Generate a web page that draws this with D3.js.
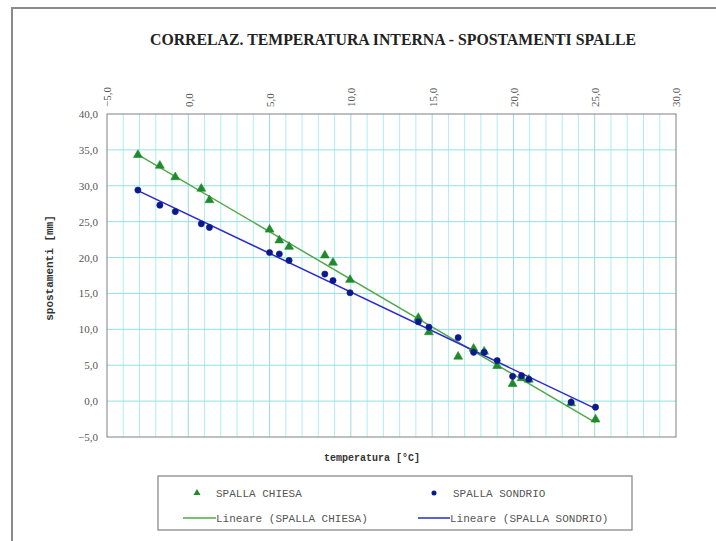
<!DOCTYPE html>
<html>
<head>
<meta charset="utf-8">
<script src="https://cdn.jsdelivr.net/npm/d3@7"></script>
<style>
  html, body { margin: 0; padding: 0; background: #fff; }
  svg { display: block; }
</style>
</head>
<body>
<svg id="chart" width="716" height="541"></svg>
<script>
// Internal temperature (°C) for each survey, shared by both abutments
const temperature = [-3.1, -1.75, -0.8, 0.8, 1.3, 5.0, 5.6, 6.2, 8.4, 8.9, 9.95,
                     14.15, 14.8, 16.6, 17.55, 18.2, 19.0, 19.95, 20.5, 20.95, 23.55, 25.05];
// Displacements (mm) – SPALLA CHIESA
const spallaChiesa = [34.3, 32.8, 31.2, 29.6, 28.0, 23.9, 22.4, 21.5, 20.3, 19.3, 16.9,
                      11.6, 9.6, 6.2, 7.3, 6.9, 4.9, 2.4, 3.2, 3.0, -0.3, -2.55];
// Displacements (mm) – SPALLA SONDRIO
const spallaSondrio = [29.4, 27.3, 26.4, 24.7, 24.2, 20.7, 20.5, 19.6, 17.7, 16.8, 15.1,
                       11.05, 10.3, 8.85, 6.8, 6.8, 5.65, 3.45, 3.55, 3.05, -0.15, -0.85];
const xTicks = [-5, 0, 5, 10, 15, 20, 25, 30];
const yTicks = [-5, 0, 5, 10, 15, 20, 25, 30, 35, 40];
const seriesNames = ["SPALLA CHIESA", "SPALLA SONDRIO"];
const trendNames = ["Lineare (SPALLA CHIESA)", "Lineare (SPALLA SONDRIO)"];

const svg = d3.select("#chart");
const W = 716, H = 541;
const plot = { left: 107, right: 676, top: 114, bottom: 437 };

const x = d3.scaleLinear().domain([-5, 30]).range([plot.left, plot.right]);
const y = d3.scaleLinear().domain([-5, 40]).range([plot.bottom, plot.top]);
const fmt = d => d3.format(".1f")(d).replace(".", ",");

// outer chart frame
svg.append("path")
  .attr("d", `M12,${H + 5} L12,8 L${W + 5},8`)
  .attr("fill", "none").attr("stroke", "#8a8a8a").attr("stroke-width", 2);

// title
svg.append("text")
  .attr("x", 393).attr("y", 45)
  .attr("text-anchor", "middle")
  .attr("font-family", "'Liberation Serif', 'Times New Roman', serif")
  .attr("font-weight", "bold").attr("font-size", 16)
  .attr("textLength", 486).attr("lengthAdjust", "spacingAndGlyphs")
  .attr("fill", "#222")
  .text("CORRELAZ. TEMPERATURA INTERNA - SPOSTAMENTI SPALLE");

// grid
const grid = svg.append("g");
grid.selectAll("line.v").data(d3.range(-4, 30, 1)).enter().append("line")
  .attr("x1", d => x(d)).attr("x2", d => x(d))
  .attr("y1", plot.top).attr("y2", plot.bottom)
  .attr("stroke", d => d % 5 === 0 ? "#9fd9dc" : "#aeeef0").attr("stroke-width", 1);
grid.selectAll("line.h").data(yTicks.filter(d => d > -5 && d < 40)).enter().append("line")
  .attr("x1", plot.left).attr("x2", plot.right)
  .attr("y1", d => y(d)).attr("y2", d => y(d))
  .attr("stroke", "#8fe3e6").attr("stroke-width", 1);

// plot border
svg.append("rect")
  .attr("x", plot.left).attr("y", plot.top)
  .attr("width", plot.right - plot.left).attr("height", plot.bottom - plot.top)
  .attr("fill", "none").attr("stroke", "#808080").attr("stroke-width", 1);

// top axis with rotated labels
const xAxis = svg.append("g")
  .attr("transform", `translate(0,${plot.top - 7})`)
  .call(d3.axisTop(x).tickValues(xTicks).tickSize(0).tickFormat(fmt));
xAxis.select(".domain").remove();
xAxis.selectAll("text")
  .attr("font-family", "'Liberation Serif', 'Times New Roman', serif")
  .attr("font-size", 11).attr("fill", "#555")
  .attr("transform", "rotate(-90)")
  .attr("text-anchor", "start")
  .attr("x", 0).attr("y", 0).attr("dy", "0.35em");

// left axis
const yAxis = svg.append("g")
  .attr("transform", `translate(${plot.left - 9},0)`)
  .call(d3.axisLeft(y).tickValues(yTicks).tickSize(0).tickFormat(fmt));
yAxis.select(".domain").remove();
yAxis.selectAll("text")
  .attr("font-family", "'Liberation Serif', 'Times New Roman', serif")
  .attr("font-size", 11).attr("fill", "#555").attr("x", 0);

// axis titles
svg.append("text")
  .attr("x", 372).attr("y", 461).attr("text-anchor", "middle")
  .attr("font-family", "'Liberation Mono', 'Courier New', monospace")
  .attr("font-weight", "bold").attr("font-size", 10).attr("fill", "#333")
  .text("temperatura [°C]");
svg.append("text")
  .attr("transform", `translate(53,268) rotate(-90)`)
  .attr("text-anchor", "middle")
  .attr("font-family", "'Liberation Mono', 'Courier New', monospace")
  .attr("font-weight", "bold").attr("font-size", 11).attr("fill", "#333")
  .text("spostamenti [mm]");

// least-squares trendlines
function linearFit(xs, ys) {
  const mx = d3.mean(xs), my = d3.mean(ys);
  let sxy = 0, sxx = 0;
  xs.forEach((v, i) => { sxy += (v - mx) * (ys[i] - my); sxx += (v - mx) * (v - mx); });
  const b = sxy / sxx;
  return { a: my - b * mx, b };
}
const series = [
  { values: spallaChiesa, marker: "triangle", fill: "#1f8a2a", line: "#52a84a" },
  { values: spallaSondrio, marker: "circle", fill: "#0a1a8c", line: "#2a2ad0" }
];
const [tMin, tMax] = d3.extent(temperature);
series.forEach(s => {
  const f = linearFit(temperature, s.values);
  svg.append("line")
    .attr("x1", x(tMin)).attr("y1", y(f.a + f.b * tMin))
    .attr("x2", x(tMax)).attr("y2", y(f.a + f.b * tMax))
    .attr("stroke", s.line).attr("stroke-width", 1.5);
});

const triSym = d3.symbol().type(d3.symbolTriangle).size(34);
const dotSym = d3.symbol().type(d3.symbolCircle).size(30);
series.forEach(s => {
  svg.append("g").selectAll("path").data(temperature).enter().append("path")
    .attr("d", s.marker === "triangle" ? triSym : dotSym)
    .attr("transform", (t, i) => `translate(${x(t)},${y(s.values[i])})`)
    .attr("fill", s.fill).attr("stroke", s.fill).attr("stroke-width", 0.6);
});

// legend
const lg = svg.append("g");
lg.append("rect").attr("x", 158).attr("y", 476).attr("width", 474).attr("height", 54)
  .attr("fill", "#fff").attr("stroke", "#808080").attr("stroke-width", 1.2);
const legFont = "'Liberation Mono', 'Courier New', monospace";
const legendItems = [
  { kind: "marker", s: series[0], mx: 197, tx: 216, ty: 493, label: seriesNames[0] },
  { kind: "marker", s: series[1], mx: 434, tx: 453, ty: 493, label: seriesNames[1] },
  { kind: "line", s: series[0], mx: 183, tx: 216, ty: 518, label: trendNames[0] },
  { kind: "line", s: series[1], mx: 418, tx: 450, ty: 518, label: trendNames[1] }
];
legendItems.forEach(it => {
  if (it.kind === "marker") {
    lg.append("path")
      .attr("d", it.s.marker === "triangle" ? triSym.size(22)() : dotSym.size(20)())
      .attr("transform", `translate(${it.mx},${it.ty})`)
      .attr("fill", it.s.fill);
  } else {
    lg.append("line").attr("x1", it.mx).attr("x2", it.tx)
      .attr("y1", it.ty).attr("y2", it.ty)
      .attr("stroke", it.s.line).attr("stroke-width", 1.5);
  }
  lg.append("text").attr("x", it.tx).attr("y", it.ty).attr("dy", "0.35em")
    .attr("font-family", legFont).attr("font-size", 11).attr("fill", "#555")
    .text(it.label);
});
</script>
</body>
</html>
